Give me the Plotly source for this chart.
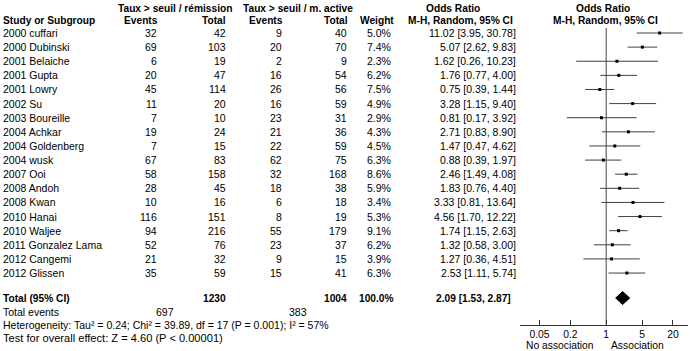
import plotly.graph_objects as go
import numpy as np

studies = ["2000 cuffari", "2000 Dubinski", "2001 Belaiche", "2001 Gupta", "2001 Lowry",
           "2002 Su", "2003 Boureille", "2004 Achkar", "2004 Goldenberg", "2004 wusk",
           "2007 Ooi", "2008 Andoh", "2008 Kwan", "2010 Hanai", "2010 Waljee",
           "2011 Gonzalez Lama", "2012 Cangemi", "2012 Glissen"]
ev1 = [32, 69, 6, 20, 45, 11, 7, 19, 7, 67, 58, 28, 10, 116, 94, 52, 21, 35]
tot1 = [42, 103, 19, 47, 114, 20, 10, 24, 15, 83, 158, 45, 16, 151, 216, 76, 32, 59]
ev2 = [9, 20, 2, 16, 26, 16, 23, 21, 22, 62, 32, 18, 6, 8, 55, 23, 9, 15]
tot2 = [40, 70, 9, 54, 56, 59, 31, 36, 59, 75, 168, 38, 18, 19, 179, 37, 15, 41]
weights = [5.0, 7.4, 2.3, 6.2, 7.5, 4.9, 2.9, 4.3, 4.5, 6.3, 8.6, 5.9, 3.4, 5.3, 9.1, 6.2, 3.9, 6.3]
or_est = [11.02, 5.07, 1.62, 1.76, 0.75, 3.28, 0.81, 2.71, 1.47, 0.88, 2.46, 1.83, 3.33, 4.56, 1.74, 1.32, 1.27, 2.53]
ci_lo = [3.95, 2.62, 0.26, 0.77, 0.39, 1.15, 0.17, 0.83, 0.47, 0.39, 1.49, 0.76, 0.81, 1.70, 1.15, 0.58, 0.36, 1.11]
ci_hi = [30.78, 9.83, 10.23, 4.00, 1.44, 9.40, 3.92, 8.90, 4.62, 1.97, 4.08, 4.40, 13.64, 12.22, 2.63, 3.00, 4.51, 5.74]
pooled = {"or": 2.09, "lo": 1.53, "hi": 2.87}
tick_vals = [0.05, 0.2, 1, 5, 20]
tick_text = ["0.05", "0.2", "1", "5", "20"]
heterogeneity = "Heterogeneity: Tau² = 0.24; Chi² = 39.89, df = 17 (P = 0.001); I² = 57%"
overall = "Test for overall effect: Z = 4.60 (P < 0.00001)"

W, H = 690, 351
FONT = "Arial, Liberation Sans, sans-serif"
FS = 10.5
row0, dy = 33, 14.12
rows_y = [row0 + i * dy for i in range(len(studies))]
y_total = rows_y[-1] + 25
y_events = y_total + 14
y_het = y_events + 13
y_test = y_het + 13
y_axis = 325

# forest axis geometry (pixels)
px1, ppd = 606.2, 51.3
ax_l, ax_r = 520, 688
r0 = (ax_l - px1) / ppd
r1 = (ax_r - px1) / ppd

fig = go.Figure()

# CI lines
cx, cy = [], []
for lo, hi, y in zip(ci_lo, ci_hi, rows_y):
    cx += [lo, hi, None]
    cy += [y, y, None]
fig.add_trace(go.Scatter(x=cx, y=cy, mode="lines", line=dict(color="#404040", width=1),
                         hoverinfo="skip", showlegend=False))
fig.add_trace(go.Scatter(x=or_est, y=rows_y, mode="markers",
                         marker=dict(symbol="square", size=3, color="black",
                                     line=dict(width=0)),
                         showlegend=False))
# diamond
fig.add_trace(go.Scatter(x=[pooled["lo"], pooled["or"], pooled["hi"], pooled["or"], pooled["lo"]],
                         y=[y_total, y_total - 6.5, y_total, y_total + 6.5, y_total],
                         mode="lines", fill="toself", fillcolor="black",
                         line=dict(color="black", width=1), showlegend=False))

# vertical line at 1
fig.add_shape(type="line", xref="x", yref="y", x0=1, x1=1, y0=28, y1=y_axis,
              line=dict(color="#444", width=1))

ann = []
def t(text, x, y, anchor="left", bold=False, size=FS, pad=1):
    ann.append(dict(text=f"<b>{text}</b>" if bold else text, x=x / W, y=y, xref="paper", yref="y",
                    xanchor=anchor, yanchor="middle", showarrow=False, borderpad=pad,
                    font=dict(family=FONT, size=size, color="black")))

BS = 10.2
# headers
t("Taux > seuil / rémission", 175, 8, "center", True, BS)
t("Taux > seuil / m. active", 298, 8, "center", True, BS)
t("Odds Ratio", 453, 8, "center", True, BS)
t("Odds Ratio", 603, 8, "center", True, BS)
t("Study or Subgroup", 1, 20, "left", True, BS)
t("Events", 160, 20, "right", True, BS)
t("Total", 228, 20, "right", True, BS)
t("Events", 285, 20, "right", True, BS)
t("Total", 350, 20, "right", True, BS)
t("Weight", 396, 20, "right", True, BS)
t("M-H, Random, 95% CI", 460, 20, "center", True, BS)
t("M-H, Random, 95% CI", 605, 20, "center", True, BS)

for i, y in enumerate(rows_y):
    t(studies[i], 1, y)
    t(str(ev1[i]), 159, y, "right")
    t(str(tot1[i]), 228, y, "right")
    t(str(ev2[i]), 284, y, "right")
    t(str(tot2[i]), 349, y, "right")
    t(f"{weights[i]:.1f}%", 393, y, "right")
    t(f"{or_est[i]:.2f} [{ci_lo[i]:.2f}, {ci_hi[i]:.2f}]", 518, y, "right")

t("Total (95% CI)", 1, y_total, "left", True, BS)
t(str(sum(tot1)), 228, y_total, "right", True, BS)
t(str(sum(tot2)), 349, y_total, "right", True, BS)
t(f"{sum(weights):.1f}%", 396, y_total, "right", True, BS)
t(f"{pooled['or']:.2f} [{pooled['lo']:.2f}, {pooled['hi']:.2f}]", 513, y_total, "right", True, BS)
t("Total events", 1, y_events)
t(str(sum(ev1)), 176, y_events, "right")
t(str(sum(ev2)), 309, y_events, "right")
t(heterogeneity, 1, y_het, "left", False, 10.5)
t(overall, 1, y_test, "left", False, 11.1)
t("No association", 560, 345, "center", False, 10.3, 0)
t("Association", 637, 345, "center", False, 10.3, 0)

fig.update_layout(
    width=W, height=H, margin=dict(l=0, r=0, t=0, b=0),
    paper_bgcolor="white", plot_bgcolor="white",
    annotations=ann, showlegend=False,
    xaxis=dict(type="log", domain=[ax_l / W, ax_r / W], range=[r0, r1],
               anchor="free", position=1 - y_axis / H,
               showline=True, linecolor="#333", linewidth=1,
               ticks="inside", ticklen=5, tickcolor="#333",
               tickvals=tick_vals, ticktext=tick_text,
               tickfont=dict(family=FONT, size=10.3, color="black"),
               showgrid=False, zeroline=False, fixedrange=True),
    yaxis=dict(range=[H, 0], domain=[0, 1], visible=False, fixedrange=True),
)
fig.write_html("out.html")
